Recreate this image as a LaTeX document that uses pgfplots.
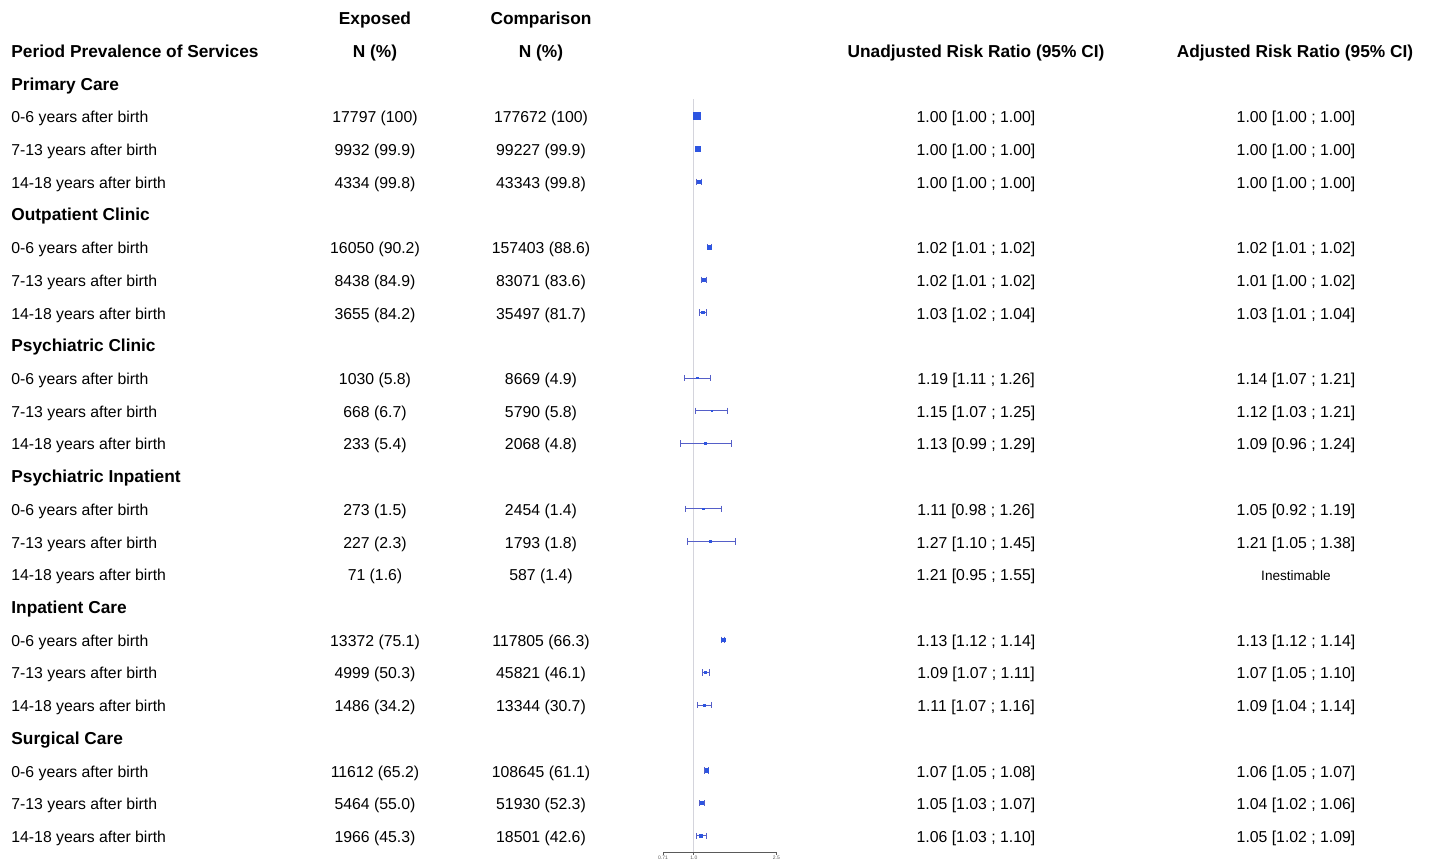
\documentclass[border=0pt]{standalone}
\usepackage{fontspec}
\setmainfont{Liberation Sans}
\usepackage{pgfplots}
\usepackage{pgfplotstable}
\pgfplotsset{compat=1.18}
\definecolor{mkblue}{RGB}{45,85,225}
\definecolor{ciblue}{RGB}{85,95,200}
\definecolor{refgray}{RGB}{212,212,220}
\definecolor{axgray}{RGB}{90,90,90}
\tikzset{ciline/.style={ciblue, line width=0.5pt, mark=|, mark size=1.6pt, mark options={solid, line width=0.5pt}}}
\newcommand{\ci}[3]{\addplot[ciline,forget plot] coordinates {(#2,#1) (#3,#1)};}

\pgfplotstableread{
k est w
1 1.039 7
2 1.050 5
3 1.066 3.5
5 1.192 3.5
6 1.123 3
7 1.106 2.5
9 1.042 1.5
10 1.219 1.5
11 1.136 1.5
13 1.111 1.5
14 1.205 1.5
17 1.389 3.5
18 1.140 2.5
19 1.127 2.2
21 1.156 3.5
22 1.094 3
23 1.081 2.5
}\forest

\begin{document}
\begin{tikzpicture}
\useasboundingbox (0,0) rectangle (715pt,-431.5pt);
\begin{axis}[
  at={(331.5pt,-426.15pt)}, anchor=south west,
  scale only axis, width=56.65pt, height=376.65pt,
  xmode=log, xmin=0.71, xmax=2.5,
  ymin=0.47, ymax=23.5, y dir=reverse,
  axis x line*=bottom, axis y line=none,
  axis line style={-, axgray, line width=0.4pt},
  xtick={0.71,1.0,2.5}, xticklabels={0.71,1.0,2.5},
  minor xtick={}, xminorticks=false,
  tick align=outside, major tick length=1.2pt,
  xtick style={axgray, line width=0.4pt},
  xticklabel style={font=\fontsize{2.5}{3}\selectfont, inner sep=0.6pt, text=axgray},
  clip=false,
]
\addplot[refgray, line width=0.6pt, forget plot] coordinates {(1,0.47) (1,23.5)};
\ci{3}{1.031}{1.090}
\ci{5}{1.165}{1.219}
\ci{6}{1.090}{1.152}
\ci{7}{1.062}{1.152}
\ci{9}{0.901}{1.209}
\ci{10}{1.019}{1.446}
\ci{11}{0.862}{1.528}
\ci{13}{0.908}{1.358}
\ci{14}{0.929}{1.588}
\ci{17}{1.363}{1.409}
\ci{18}{1.102}{1.192}
\ci{19}{1.042}{1.219}
\ci{21}{1.127}{1.178}
\ci{22}{1.066}{1.127}
\ci{23}{1.031}{1.152}
\addplot[only marks, mark=square*, scatter,
  scatter/use mapped color={draw=mkblue, fill=mkblue},
  visualization depends on={\thisrow{w}/4 \as \msize},
  scatter/@pre marker code/.append style={/tikz/mark size=\msize}]
  table[x=est, y=k] {\forest};
\end{axis}
\begin{scope}[x=0.5pt, y=-0.5pt, every node/.style={font=\fontsize{7.9}{9.5}\selectfont, inner sep=0pt, text height=0.72em, text depth=0pt},
  hd/.style={font=\fontsize{8.65}{10}\selectfont\bfseries}]
\node[anchor=center, hd] at (375,17.3) {Exposed};
\node[anchor=center, hd] at (541,17.3) {Comparison};
\node[anchor=west, hd] at (11,50.2) {Period Prevalence of Services};
\node[anchor=center, hd] at (375,50.2) {N (\%)};
\node[anchor=center, hd] at (541,50.2) {N (\%)};
\node[anchor=center, hd] at (976,50.2) {Unadjusted Risk Ratio (95\% CI)};
\node[anchor=center, hd] at (1295,50.2) {Adjusted Risk Ratio (95\% CI)};
\foreach \rk/\sec in {0/Primary Care, 4/Outpatient Clinic, 8/Psychiatric Clinic, 12/Psychiatric Inpatient, 16/Inpatient Care, 20/Surgical Care}{
  \node[anchor=west, hd] at (11,{82.8+32.72*\rk}) {\sec};
}
\foreach \rk/\per/\nex/\nco/\rru/\rra in {
 1/0-6/17797 (100)/177672 (100)/1.00 [1.00 ; 1.00]/1.00 [1.00 ; 1.00],
 2/7-13/9932 (99.9)/99227 (99.9)/1.00 [1.00 ; 1.00]/1.00 [1.00 ; 1.00],
 3/14-18/4334 (99.8)/43343 (99.8)/1.00 [1.00 ; 1.00]/1.00 [1.00 ; 1.00],
 5/0-6/16050 (90.2)/157403 (88.6)/1.02 [1.01 ; 1.02]/1.02 [1.01 ; 1.02],
 6/7-13/8438 (84.9)/83071 (83.6)/1.02 [1.01 ; 1.02]/1.01 [1.00 ; 1.02],
 7/14-18/3655 (84.2)/35497 (81.7)/1.03 [1.02 ; 1.04]/1.03 [1.01 ; 1.04],
 9/0-6/1030 (5.8)/8669 (4.9)/1.19 [1.11 ; 1.26]/1.14 [1.07 ; 1.21],
 10/7-13/668 (6.7)/5790 (5.8)/1.15 [1.07 ; 1.25]/1.12 [1.03 ; 1.21],
 11/14-18/233 (5.4)/2068 (4.8)/1.13 [0.99 ; 1.29]/1.09 [0.96 ; 1.24],
 13/0-6/273 (1.5)/2454 (1.4)/1.11 [0.98 ; 1.26]/1.05 [0.92 ; 1.19],
 14/7-13/227 (2.3)/1793 (1.8)/1.27 [1.10 ; 1.45]/1.21 [1.05 ; 1.38],
 15/14-18/71 (1.6)/587 (1.4)/1.21 [0.95 ; 1.55]/{\fontsize{6.8}{8}\selectfont Inestimable},
 17/0-6/13372 (75.1)/117805 (66.3)/1.13 [1.12 ; 1.14]/1.13 [1.12 ; 1.14],
 18/7-13/4999 (50.3)/45821 (46.1)/1.09 [1.07 ; 1.11]/1.07 [1.05 ; 1.10],
 19/14-18/1486 (34.2)/13344 (30.7)/1.11 [1.07 ; 1.16]/1.09 [1.04 ; 1.14],
 21/0-6/11612 (65.2)/108645 (61.1)/1.07 [1.05 ; 1.08]/1.06 [1.05 ; 1.07],
 22/7-13/5464 (55.0)/51930 (52.3)/1.05 [1.03 ; 1.07]/1.04 [1.02 ; 1.06],
 23/14-18/1966 (45.3)/18501 (42.6)/1.06 [1.03 ; 1.10]/1.05 [1.02 ; 1.09]}{
  \node[anchor=west] at (11,{82.8+32.72*\rk}) {\per{} years after birth};
  \node[anchor=center] at (375,{82.8+32.72*\rk}) {\nex};
  \node[anchor=center] at (541,{82.8+32.72*\rk}) {\nco};
  \node[anchor=center] at (976,{82.8+32.72*\rk}) {\rru};
  \node[anchor=center] at (1296,{82.8+32.72*\rk}) {\rra};
}
\end{scope}
\end{tikzpicture}
\end{document}
